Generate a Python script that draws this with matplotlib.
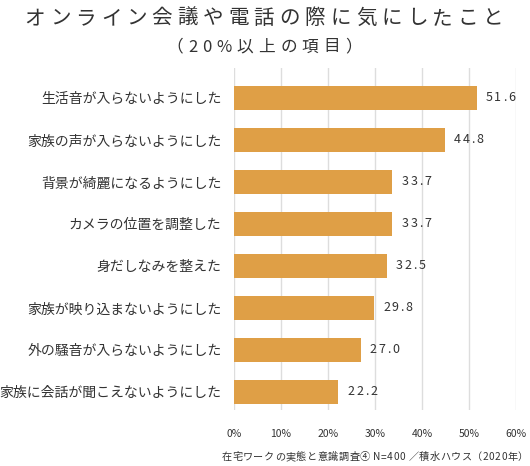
import matplotlib
matplotlib.use("Agg")
import matplotlib.pyplot as plt

plt.rcParams['font.family'] = ['Noto Sans CJK JP', 'DejaVu Sans']

# data
items = ["生活音が入らないようにした", "家族の声が入らないようにした", "背景が綺麗になるようにした",
         "カメラの位置を調整した", "身だしなみを整えた", "家族が映り込まないようにした",
         "外の騒音が入らないようにした", "家族に会話が聞こえないようにした"]
values = [51.6, 44.8, 33.7, 33.7, 32.5, 29.8, 27.0, 22.2]
xticks = [0, 10, 20, 30, 40, 50, 60]
title = "オンライン会議や電話の際に気にしたこと"
subtitle = "（20%以上の項目）"
source = "在宅ワークの実態と意識調査④ N=400 ／積水ハウス（2020年）"

W, H = 530, 466
bar_color = "#DF9F46"
txt_color = "#333333"

fig = plt.figure(figsize=(W / 100, H / 100), dpi=100)
ax = fig.add_axes([234 / W, 1 - 410 / H, 282 / W, (410 - 68) / H])

pos = list(range(len(items)))
ax.barh(pos, values, height=0.58, color=bar_color, zorder=2)
ax.set_xlim(0, 60)
ax.set_ylim(7.43, -0.71)
ax.set_yticks(pos)
ax.set_yticklabels(items, fontsize=10, color=txt_color)
ax.set_xticks(xticks)
ax.set_xticklabels([f"{t}%" for t in xticks], fontsize=7.5, color=txt_color)
ax.tick_params(axis='y', length=0, pad=9)
ax.tick_params(axis='x', length=0, pad=14)
ax.grid(axis='x', color="#dddddd", linewidth=1, zorder=0)
for s in ax.spines.values():
    s.set_visible(False)

renderer = fig.canvas.get_renderer()


def spaced(x, y, s, size, track, ha='center'):
    # draw text with extra letter spacing, x/y in pixels from top-left
    widths = []
    for ch in s:
        t = fig.text(0, 0, ch, fontsize=size)
        widths.append(t.get_window_extent(renderer).width)
        t.remove()
    total = sum(widths) + track * (len(s) - 1)
    if ha == 'center':
        cur = x - total / 2
    elif ha == 'right':
        cur = x - total
    else:
        cur = x
    for ch, w in zip(s, widths):
        fig.text(cur / W, 1 - y / H, ch, fontsize=size, color=txt_color,
                 ha='left', va='center')
        cur += w + track


spaced(264, 18, title, 14.8, 5.0)
spaced(264, 47, subtitle, 12, 5.0)
spaced(528, 457, source, 7.3, 0.5, ha='right')

for p, v in zip(pos, values):
    x0 = ax.transData.transform((v, p))
    spaced(x0[0] + 9, H - x0[1], f"{v:.1f}", 9, 1.8, ha='left')

fig.savefig("out.png", dpi=100)
